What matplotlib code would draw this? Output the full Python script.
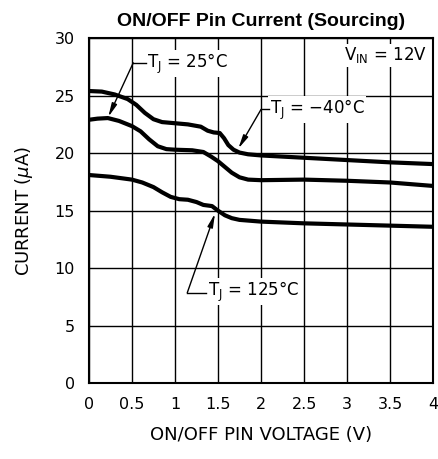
import numpy as np
import matplotlib
matplotlib.use('Agg')
import matplotlib.pyplot as plt

# ON/OFF pin voltage (V) vs sourcing current (uA)
v_m40 = [0, 0.15, 0.3, 0.45, 0.55, 0.65, 0.75, 0.85, 1.0, 1.15, 1.3, 1.38, 1.45, 1.52,
         1.57, 1.62, 1.68, 1.75, 1.85, 2.0, 2.5, 3.0, 3.5, 4.0]
i_m40 = [25.4, 25.35, 25.1, 24.7, 24.2, 23.5, 22.95, 22.7, 22.6, 22.5, 22.3, 21.95, 21.8, 21.75,
         21.3, 20.7, 20.3, 20.05, 19.9, 19.8, 19.6, 19.4, 19.2, 19.05]

v_25 = [0, 0.1, 0.22, 0.35, 0.5, 0.6, 0.7, 0.8, 0.9, 1.0, 1.2, 1.33, 1.42, 1.5,
        1.58, 1.66, 1.75, 1.85, 2.0, 2.5, 3.0, 3.5, 4.0]
i_25 = [22.9, 23.0, 23.05, 22.8, 22.35, 21.9, 21.2, 20.6, 20.35, 20.3, 20.25, 20.1, 19.7, 19.3,
        18.8, 18.3, 17.9, 17.7, 17.65, 17.7, 17.6, 17.45, 17.15]

v_125 = [0, 0.25, 0.5, 0.62, 0.75, 0.85, 0.95, 1.05, 1.15, 1.25, 1.33, 1.43, 1.5,
         1.58, 1.66, 1.75, 2.0, 2.5, 3.0, 3.5, 4.0]
i_125 = [18.1, 17.95, 17.7, 17.45, 17.05, 16.6, 16.2, 16.0, 15.95, 15.75, 15.5, 15.4, 15.0,
         14.6, 14.35, 14.2, 14.05, 13.9, 13.8, 13.7, 13.6]

xticks = [0, 0.5, 1, 1.5, 2, 2.5, 3, 3.5, 4]
xticklabels = ['0', '0.5', '1', '1.5', '2', '2.5', '3', '3.5', '4']
yticks = [0, 5, 10, 15, 20, 25, 30]

plt.rcParams['font.family'] = ['DejaVu Sans']
plt.rcParams['mathtext.fontset'] = 'dejavusans'

fig = plt.figure(figsize=(4.38, 4.59), dpi=100)
ax = fig.add_axes([0.203, 0.165, 0.786, 0.752])

for v, i in [(v_m40, i_m40), (v_25, i_25), (v_125, i_125)]:
    ax.plot(v, i, color='black', lw=3.0, solid_joinstyle='round', solid_capstyle='butt', zorder=3)

ax.set_xlim(0, 4)
ax.set_ylim(0, 30)
ax.set_xticks(xticks)
ax.set_xticklabels(xticklabels)
ax.set_yticks(yticks)
ax.tick_params(length=0, labelsize=11.5, pad=10)
ax.grid(True, color='black', lw=1.0)
for s in ax.spines.values():
    s.set_linewidth(1.5)

ax.set_xlabel('ON/OFF PIN VOLTAGE (V)', fontsize=13, labelpad=10)
ax.set_ylabel('CURRENT ($\\mu$A)', fontsize=13, labelpad=14)
ax.set_title('ON/OFF Pin Current (Sourcing)', fontsize=14, fontweight='bold',
             family='Liberation Sans', pad=9)

box = dict(facecolor='white', edgecolor='none', pad=1)
arrow = dict(arrowstyle='-|>,head_length=0.8,head_width=0.16', color='black', lw=1.0,
             shrinkA=0, shrinkB=0)

# T_J = 25C
ax.text(0.68, 27.8, 'T$_\\mathregular{J}$ = 25°C', fontsize=12, va='center', ha='left', bbox=box, zorder=4)
ax.plot([0.515, 0.66], [27.85, 27.85], color='black', lw=1.0, zorder=4)
ax.annotate('', xy=(0.225, 23.15), xytext=(0.515, 27.85), arrowprops=arrow, zorder=4)

# T_J = -40C
ax.text(2.1, 23.8, 'T$_\\mathregular{J}$ = \u221240°C', fontsize=12, va='center', ha='left', bbox=box, zorder=4)
ax.plot([2.0, 2.09], [23.8, 23.8], color='black', lw=1.0, zorder=4)
ax.annotate('', xy=(1.736, 20.4), xytext=(2.0, 23.8), arrowprops=arrow, zorder=4)

# T_J = 125C
ax.text(1.38, 7.95, 'T$_\\mathregular{J}$ = 125°C', fontsize=12, va='center', ha='left', bbox=box, zorder=4)
ax.plot([1.143, 1.36], [7.87, 7.87], color='black', lw=1.0, zorder=4)
ax.annotate('', xy=(1.465, 14.75), xytext=(1.143, 7.87), arrowprops=arrow, zorder=4)

ax.text(3.93, 28.5, 'V$_\\mathregular{IN}$ = 12V', fontsize=12, va='center', ha='right', bbox=box, zorder=4)

fig.savefig('out.png', dpi=100)
